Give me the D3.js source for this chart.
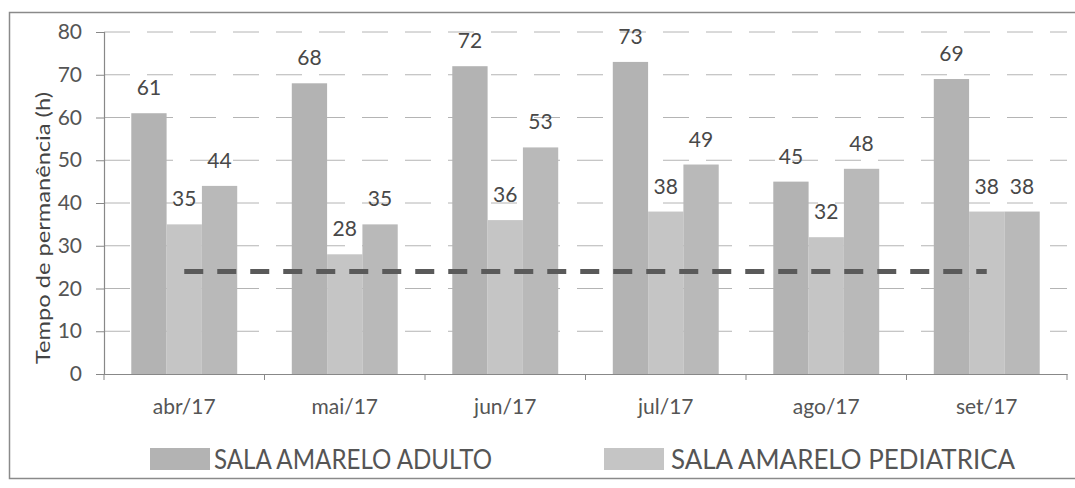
<!DOCTYPE html>
<html>
<head>
<meta charset="utf-8">
<script src="https://cdn.jsdelivr.net/npm/d3@7"></script>
<style>
  html, body { margin: 0; padding: 0; background: #fff; }
  svg { display: block; }
  text { font-family: Lato, "Open Sans", "DejaVu Sans", sans-serif; }
</style>
</head>
<body>
<svg id="chart" width="1075" height="488"></svg>
<script>
// ---- Data ----
const categories = ["abr/17", "mai/17", "jun/17", "jul/17", "ago/17", "set/17"];
const adultoValues = [61, 68, 72, 73, 45, 69];
const pediatricaValues = [35, 28, 36, 38, 32, 38];
const terceiraValues = [44, 35, 53, 49, 48, 38];
const metaValues = [24, 24, 24, 24, 24, 24];
const yTicks = [0, 10, 20, 30, 40, 50, 60, 70, 80];
const seriesNames = ["SALA AMARELO ADULTO", "SALA AMARELO PEDIATRICA", "Série 3"];
const legendNames = ["SALA AMARELO ADULTO", "SALA AMARELO PEDIATRICA"];
const yTitle = "Tempo de permanência (h)";

// ---- Layout ----
const svg = d3.select("#chart");
const plotLeft = 104, plotRight = 1067, plotTop = 32, plotBottom = 374;
const colors = ["#b3b3b3", "#c5c5c5", "#b9b9b9"];

// outer frame
svg.append("rect")
  .attr("x", 9.5).attr("y", 12.5)
  .attr("width", 1080).attr("height", 466)
  .attr("fill", "none").attr("stroke", "#8a8a8a").attr("stroke-width", 1.5);

const y = d3.scaleLinear().domain([0, 80]).range([plotBottom, plotTop]);
const x0 = d3.scaleBand().domain(categories).range([plotLeft, plotRight])
  .paddingInner(0.34).paddingOuter(0.17);
const step = x0.step();
const x1 = d3.scaleBand().domain(seriesNames).range([0, x0.bandwidth()]);

// gridlines
svg.append("g").selectAll("line").data(yTicks.filter(d => d > 0)).join("line")
  .attr("x1", plotLeft).attr("x2", plotRight)
  .attr("y1", d => y(d)).attr("y2", d => y(d))
  .attr("stroke", "#b4b4b4").attr("stroke-width", 1)
  .attr("stroke-dasharray", "26,17");

// bars
const seriesData = [adultoValues, pediatricaValues, terceiraValues];
const groups = svg.append("g").selectAll("g").data(categories).join("g")
  .attr("transform", d => `translate(${x0(d)},0)`);
groups.selectAll("rect")
  .data((c, i) => seriesData.map((s, k) => ({ key: seriesNames[k], k, v: s[i] })))
  .join("rect")
  .attr("x", d => x1(d.key))
  .attr("width", x1.bandwidth())
  .attr("y", d => y(d.v))
  .attr("height", d => y(0) - y(d.v))
  .attr("fill", d => colors[d.k]);

// value labels
groups.selectAll("text.val")
  .data((c, i) => seriesData.map((s, k) => ({ key: seriesNames[k], v: s[i] })))
  .join("text")
  .attr("class", "val")
  .attr("x", d => x1(d.key) + x1.bandwidth() / 2)
  .attr("y", d => y(d.v) - 18)
  .attr("text-anchor", "middle")
  .attr("font-size", 21)
  .attr("fill", "#484848")
  .text(d => d.v);

// dashed target line
const line = d3.line()
  .x((d, i) => x0(categories[i]) + x0.bandwidth() / 2)
  .y(d => y(d));
svg.append("path").datum(metaValues)
  .attr("d", line)
  .attr("fill", "none")
  .attr("stroke", "#5a5a5a")
  .attr("stroke-width", 5)
  .attr("stroke-dasharray", "19,14");

// y axis
const yAxis = d3.axisLeft(y).tickValues(yTicks).tickSize(8).tickPadding(14);
const yg = svg.append("g").attr("transform", `translate(${plotLeft},0)`).call(yAxis);
yg.select(".domain").attr("stroke", "#888").attr("stroke-width", 1.2);
yg.selectAll(".tick line").attr("stroke", "#888");
yg.selectAll(".tick text").attr("font-size", 21).attr("fill", "#555")
  .attr("font-family", "Lato, 'Open Sans', sans-serif");

// x axis
const xAxis = d3.axisBottom(x0).tickSize(0).tickPadding(25);
const xg = svg.append("g").attr("transform", `translate(0,${plotBottom})`).call(xAxis);
xg.select(".domain").attr("stroke", "#888").attr("stroke-width", 1.2);
xg.selectAll(".tick text").attr("font-size", 21).attr("fill", "#555")
  .attr("font-family", "Lato, 'Open Sans', sans-serif");
// boundary ticks
svg.append("g").selectAll("line").data(d3.range(categories.length + 1)).join("line")
  .attr("x1", i => plotLeft + i * step).attr("x2", i => plotLeft + i * step)
  .attr("y1", plotBottom).attr("y2", plotBottom + 6)
  .attr("stroke", "#888");

// y title
svg.append("text")
  .attr("transform", `translate(50,228) rotate(-90)`)
  .attr("text-anchor", "middle")
  .attr("font-size", 20)
  .attr("fill", "#444")
  .attr("textLength", 272)
  .attr("lengthAdjust", "spacingAndGlyphs")
  .text(yTitle);

// legend
const legendItems = [
  { name: legendNames[0], color: colors[0], sx: 150, tx: 214, tw: 278 },
  { name: legendNames[1], color: colors[1], sx: 604, tx: 671, tw: 344 }
];
const lg = svg.append("g").selectAll("g").data(legendItems).join("g");
lg.append("rect")
  .attr("x", d => d.sx).attr("y", 448)
  .attr("width", 60).attr("height", 22)
  .attr("fill", d => d.color);
lg.append("text")
  .attr("x", d => d.tx).attr("y", 469)
  .attr("font-size", 27)
  .attr("fill", "#555")
  .attr("textLength", d => d.tw)
  .attr("lengthAdjust", "spacingAndGlyphs")
  .text(d => d.name);
</script>
</body>
</html>
